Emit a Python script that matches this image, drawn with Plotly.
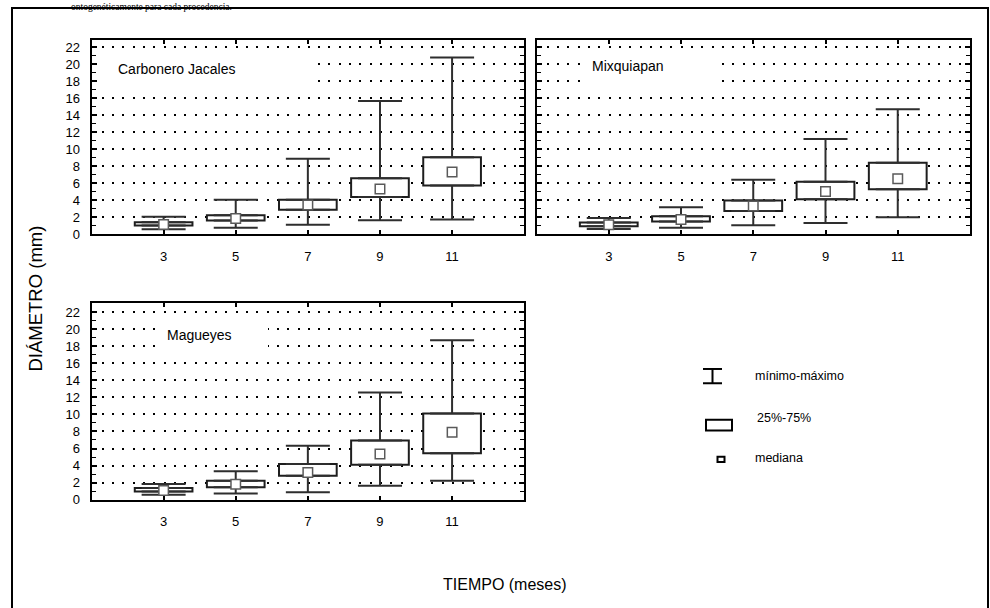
import plotly.graph_objects as go

# ---------------------------------------------------------------- data
months = [3, 5, 7, 9, 11]
month_labels = ["3", "5", "7", "9", "11"]
y_ticks = list(range(0, 23, 2))

sites = ["Carbonero Jacales", "Mixquiapan", "Magueyes"]

# Carbonero Jacales
cj_min = [0.55, 0.75, 1.1, 1.63, 1.7]
cj_q1 = [1.0, 1.6, 2.85, 4.37, 5.72]
cj_median = [1.12, 1.82, 3.42, 5.3, 7.3]
cj_q3 = [1.38, 2.2, 4.02, 6.56, 9.05]
cj_max = [2.02, 4.02, 8.85, 15.65, 20.8]

# Mixquiapan
mx_min = [0.58, 0.73, 1.04, 1.3, 1.96]
mx_q1 = [0.92, 1.46, 2.7, 4.08, 5.27]
mx_median = [1.1, 1.7, 3.3, 5.0, 6.5]
mx_q3 = [1.35, 2.1, 3.96, 6.15, 8.38]
mx_max = [1.88, 3.15, 6.4, 11.2, 14.7]

# Magueyes
mg_min = [0.57, 0.73, 0.88, 1.65, 2.22]
mg_q1 = [0.96, 1.46, 2.8, 4.1, 5.44]
mg_median = [1.07, 1.8, 3.2, 5.36, 7.9]
mg_q3 = [1.38, 2.22, 4.18, 6.95, 10.1]
mg_max = [1.84, 3.33, 6.32, 12.57, 18.7]

legend_labels = ["mínimo-máximo", "25%-75%", "mediana"]

# ---------------------------------------------------------------- layout helpers
W, H = 990, 608


def px_x(x):
    return x / W


def px_y(y):
    return 1 - y / H


SANS = "Liberation Sans, Arial, sans-serif"
BOX_LINE = "#1e1e1e"
WHISKER = "#2e2e2e"

# panel rectangles in pixels: (left, top, right, bottom, y_max)
panels = [
    (91.5, 40.0, 524.2, 236.5, 22.8),
    (536.5, 40.0, 970.0, 236.5, 22.8),
    (91.5, 307.0, 524.2, 506.2, 23.0),
]

series = [
    (cj_min, cj_q1, cj_median, cj_q3, cj_max),
    (mx_min, mx_q1, mx_median, mx_q3, mx_max),
    (mg_min, mg_q1, mg_median, mg_q3, mg_max),
]

fig = go.Figure()

for i, (mins, q1, med, q3, maxs) in enumerate(series):
    suffix = "" if i == 0 else str(i + 1)
    xa, ya = "x" + suffix, "y" + suffix

    # 25%-75% boxes
    fig.add_trace(go.Bar(
        x=months, y=[b - a for a, b in zip(q1, q3)], base=q1, width=1.6,
        marker=dict(color="white", line=dict(color=BOX_LINE, width=2)),
        xaxis=xa, yaxis=ya, showlegend=False, hoverinfo="skip",
    ))
    # upper whiskers (Q3 -> maximum)
    fig.add_trace(go.Scatter(
        x=months, y=q3, mode="markers",
        marker=dict(size=1, color="rgba(0,0,0,0)"),
        error_y=dict(type="data", symmetric=False,
                     array=[b - a for a, b in zip(q3, maxs)],
                     arrayminus=[0] * len(months),
                     width=22, thickness=2, color=WHISKER),
        xaxis=xa, yaxis=ya, showlegend=False, hoverinfo="skip",
    ))
    # lower whiskers (minimum -> Q1)
    fig.add_trace(go.Scatter(
        x=months, y=q1, mode="markers",
        marker=dict(size=1, color="rgba(0,0,0,0)"),
        error_y=dict(type="data", symmetric=False,
                     array=[0] * len(months),
                     arrayminus=[a - b for a, b in zip(q1, mins)],
                     width=22, thickness=2, color=WHISKER),
        xaxis=xa, yaxis=ya, showlegend=False, hoverinfo="skip",
    ))
    # medians
    fig.add_trace(go.Scatter(
        x=months, y=med, mode="markers",
        marker=dict(symbol="square", size=9.5, color="white",
                    line=dict(color="#5a5a5a", width=1.5)),
        xaxis=xa, yaxis=ya, showlegend=False,
    ))

layout = dict(
    width=W, height=H,
    margin=dict(l=0, r=0, t=0, b=0),
    paper_bgcolor="white", plot_bgcolor="white",
    showlegend=False, barmode="overlay",
    font=dict(family=SANS, color="black"),
)

for i, (l, t, r, b, ymax) in enumerate(panels):
    suffix = "" if i == 0 else str(i + 1)
    layout["xaxis" + suffix] = dict(
        domain=[px_x(l), px_x(r)], anchor="y" + suffix,
        range=[1, 13], tickvals=months, ticktext=month_labels,
        ticks="inside", ticklen=4, tickwidth=1.5, tickcolor="black",
        showline=True, linewidth=2, linecolor="black", mirror="ticks",
        showgrid=False, zeroline=False,
        tickfont=dict(family=SANS, size=13, color="black"),
        ticklabelstandoff=9,
    )
    layout["yaxis" + suffix] = dict(
        domain=[px_y(b), px_y(t)], anchor="x" + suffix,
        range=[0, ymax], tickvals=y_ticks,
        ticks="inside", ticklen=5, tickwidth=1.5, tickcolor="black",
        minor=dict(dtick=1, tick0=0, ticks="inside", ticklen=4,
                   tickwidth=1, tickcolor="black", showgrid=False),
        showline=True, linewidth=2, linecolor="black", mirror="ticks",
        showgrid=True, gridcolor="black", gridwidth=2, griddash="2px,8.3px",
        zeroline=False,
        showticklabels=(i != 1),
        tickfont=dict(family=SANS, size=13, color="black"),
        ticklabelstandoff=7,
    )

fig.update_layout(**layout)

shapes = []
annotations = []

# page frame
shapes.append(dict(type="rect", xref="paper", yref="paper",
                   x0=px_x(12), x1=px_x(988), y0=px_y(640), y1=px_y(7),
                   line=dict(color="black", width=2), fillcolor="rgba(0,0,0,0)",
                   layer="above"))

# white label boxes over the grid, and panel titles
title_boxes = [(99, 50, 313, 94), (580, 50, 715, 94), (157, 319, 268, 363)]
title_pos = [(115.5, 69.5), (590, 65.5), (164.5, 339.5)]
for (x0, y0, x1, y1), (tx, ty), name in zip(title_boxes, title_pos, sites):
    shapes.append(dict(type="rect", xref="paper", yref="paper",
                       x0=px_x(x0), x1=px_x(x1), y0=px_y(y1), y1=px_y(y0),
                       line=dict(width=0), fillcolor="white", layer="above"))
    annotations.append(dict(text=name, xref="paper", yref="paper",
                            x=px_x(tx), y=px_y(ty), xanchor="left", yanchor="middle",
                            showarrow=False, font=dict(family=SANS, size=14, color="black")))

# legend: min-max whisker glyph
shapes += [
    dict(type="line", xref="paper", yref="paper", x0=px_x(712.5), x1=px_x(712.5),
         y0=px_y(388), y1=px_y(373.5), line=dict(color="black", width=2)),
    dict(type="line", xref="paper", yref="paper", x0=px_x(703), x1=px_x(722),
         y0=px_y(373.5), y1=px_y(373.5), line=dict(color="black", width=2)),
    dict(type="line", xref="paper", yref="paper", x0=px_x(703), x1=px_x(722),
         y0=px_y(388), y1=px_y(388), line=dict(color="black", width=2)),
    # 25%-75% box glyph
    dict(type="rect", xref="paper", yref="paper", x0=px_x(706), x1=px_x(732),
         y0=px_y(436), y1=px_y(425), line=dict(color="black", width=2),
         fillcolor="white"),
    # median glyph
    dict(type="rect", xref="paper", yref="paper", x0=px_x(717.5), x1=px_x(724.5),
         y0=px_y(468), y1=px_y(462.5), line=dict(color="black", width=2),
         fillcolor="white"),
]
for text, (tx, ty) in zip(legend_labels, [(752.5, 381), (755, 423.5), (753, 463.5)]):
    annotations.append(dict(text=text, xref="paper", yref="paper",
                            x=px_x(tx), y=px_y(ty), xanchor="left", yanchor="middle",
                            showarrow=False, font=dict(family=SANS, size=12.5, color="black")))

# axis titles
annotations.append(dict(text="DIÁMETRO (mm)", xref="paper", yref="paper",
                        x=px_x(36), y=px_y(302), textangle=-90,
                        xanchor="center", yanchor="middle", showarrow=False,
                        font=dict(family=SANS, size=18.5, color="black")))
annotations.append(dict(text="TIEMPO (meses)", xref="paper", yref="paper",
                        x=px_x(505), y=px_y(592), xanchor="center", yanchor="middle",
                        showarrow=False, font=dict(family=SANS, size=16, color="black")))

# running text of the page above the figure
annotations.append(dict(text="ontogenéticamente para cada procedencia.",
                        xref="paper", yref="paper", x=px_x(70), y=1,
                        xanchor="left", yanchor="top", showarrow=False, borderpad=0,
                        font=dict(family="Liberation Serif, Times New Roman, serif",
                                  size=9.5, color="black")))

fig.update_layout(shapes=shapes, annotations=annotations)

fig.write_html("out.html")
